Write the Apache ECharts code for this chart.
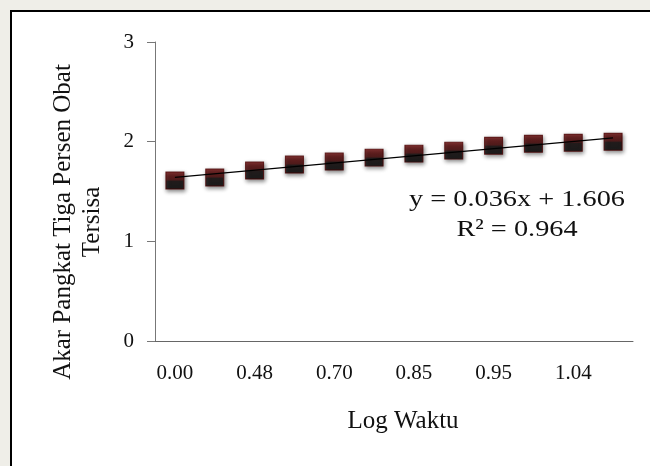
<!DOCTYPE html>
<html>
<head>
<meta charset="utf-8">
<script src="https://cdn.jsdelivr.net/npm/echarts@6/dist/echarts.min.js"></script>
<style>
html,body{margin:0;padding:0;background:#efeee8;}
#chart{width:650px;height:466px;}
</style>
</head>
<body>
<div id="chart"></div>
<script>
var categories = ['0.00','0.30','0.48','0.60','0.70','0.78','0.85','0.90','0.95','1.00','1.04','1.08'];
var values = [1.61, 1.64, 1.71, 1.77, 1.80, 1.84, 1.88, 1.91, 1.96, 1.98, 1.99, 2.00];
var yTicks = [0, 1, 2, 3];
var trendSlope = 0.036;
var trendIntercept = 1.606;
var equationText = 'y = 0.036x + 1.606';
var r2Text = 'R² = 0.964';
var xTitle = 'Log Waktu';
var yTitle = ['Akar Pangkat Tiga Persen Obat', 'Tersisa'];

var serif = '"Liberation Serif", "DejaVu Serif", serif';
var chart = echarts.init(document.getElementById('chart'));
var n = categories.length;
var option = {
  backgroundColor: '#efeee8',
  animation: false,
  graphic: [
    {type:'rect', shape:{x:11, y:11, width:700, height:600}, style:{fill:'#ffffff', stroke:'#000', lineWidth:2}, z:-10},
    {type:'text', x:63, y:222, rotation:Math.PI/2, style:{text:yTitle[0], font:'25px ' + serif, fill:'#111', align:'center', verticalAlign:'middle'}},
    {type:'text', x:92, y:222, rotation:Math.PI/2, style:{text:yTitle[1], font:'25px ' + serif, fill:'#111', align:'center', verticalAlign:'middle'}},
    {type:'text', x:517, y:200, scaleX:1.18, style:{text:equationText, font:'24px ' + serif, fill:'#111', align:'center', verticalAlign:'middle'}},
    {type:'text', x:517, y:230, scaleX:1.18, style:{text:r2Text, font:'24px ' + serif, fill:'#111', align:'center', verticalAlign:'middle'}}
  ],
  grid: {left:155, right:17, top:42, bottom:125, containLabel:false},
  xAxis: {
    type:'category', data:categories, boundaryGap:true,
    name:xTitle, nameLocation:'middle', nameGap:68,
    nameTextStyle:{fontFamily:serif, fontSize:25, color:'#111', padding:[0,0,0,18]},
    axisLine:{lineStyle:{color:'#666', width:1}},
    axisTick:{show:false},
    axisLabel:{interval:1, margin:22, fontFamily:serif, fontSize:21, color:'#111'},
    splitLine:{show:false}
  },
  yAxis: {
    type:'value', min:yTicks[0], max:yTicks[yTicks.length-1], interval:1,
    axisLine:{show:true, lineStyle:{color:'#777', width:1}},
    axisTick:{show:true, length:8, lineStyle:{color:'#777'}},
    axisLabel:{margin:21, fontFamily:serif, fontSize:21, color:'#111'},
    splitLine:{show:false}
  },
  series: [{
    type:'scatter', data:values, symbol:'rect', symbolSize:[18,17], z:2,
    itemStyle:{
      color:new echarts.graphic.LinearGradient(0,0,0,1,[{offset:0,color:'#6e0404'},{offset:0.45,color:'#420101'},{offset:0.55,color:'#080000'},{offset:1,color:'#000'}]),
      borderColor:'#4a0000', borderWidth:1,
      shadowColor:'rgba(0,0,0,0.6)', shadowBlur:4, shadowOffsetX:1, shadowOffsetY:2
    },
    markLine:{
      silent:true, symbol:['none','none'], z:5,
      lineStyle:{color:'#000', width:1.2, type:'solid'},
      label:{show:false},
      data:[[{coord:[categories[0], trendSlope*1+trendIntercept]},{coord:[categories[n-1], trendSlope*n+trendIntercept]}]]
    }
  }]
};
chart.setOption(option);
</script>
</body>
</html>
